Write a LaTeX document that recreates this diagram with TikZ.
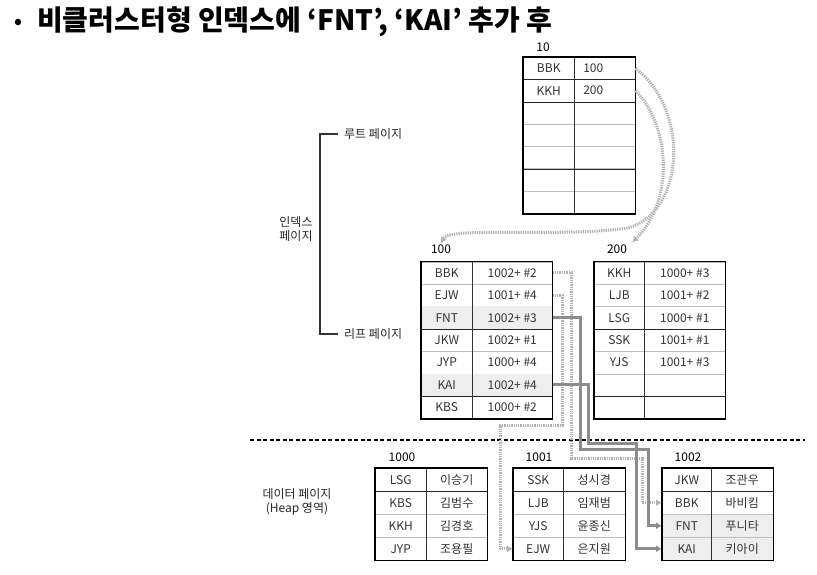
\documentclass[tikz,border=0pt]{standalone}
\usepackage{fontspec}
\setmainfont{Noto Sans CJK KR}
\usetikzlibrary{arrows.meta}
\begin{document}
\begin{tikzpicture}[x=1pt,y=-1pt,
  cell/.style={draw=gray!50, line width=0.5pt, inner sep=0pt, anchor=north west,
    font=\fontsize{12}{12}\selectfont, text=black!80},
  hl/.style={fill=gray!13},
  tblborder/.style={draw=black, line width=1.8pt},
  coldiv/.style={draw=black!80, line width=0.7pt},
  sepdark/.style={draw=black!85, line width=0.7pt},
  pagelbl/.style={font=\fontsize{12}{12}\selectfont, inner sep=1pt},
  note/.style={font=\fontsize{12}{14}\selectfont, text=black!85, inner sep=1pt, align=center},
  dotconn/.style={draw=gray!60, line width=3pt, dash pattern=on 1.3pt off 1pt,
    -{Latex[length=6pt,width=7pt]}},
  solconn/.style={draw=black!45, line width=3pt, -{Latex[length=6pt,width=7pt]}},
]
\useasboundingbox (0,0) rectangle (817,575);

% ---------- title ----------
\node[font=\fontsize{20}{20}\selectfont\bfseries, inner sep=0pt] (bullet) at (18,24) {•};
\node[anchor=west, font=\fontsize{28}{28}\selectfont\bfseries, inner sep=0pt] (title) at (37,22)
  {비클러스터형 인덱스에 ‘FNT’, ‘KAI’ 추가 후};

% ---------- root page 10 ----------
\node[pagelbl] (l10) at (543,47) {10};
\foreach \k/\v [count=\i] in {BBK/100,KKH/200} {
  \node[cell, minimum width=51, minimum height=22.3] (r10k\i) at (523,{57+(\i-1)*22.3}) {\k};
  \node[cell, minimum width=61, minimum height=22.3, text width=43, inner xsep=9pt, align=left] (r10v\i) at (574,{57+(\i-1)*22.3}) {\v};
}
\foreach \i in {3,...,7} {
  \node[cell, minimum width=51, minimum height=22.3] (r10k\i) at (523,{57+(\i-1)*22.3}) {};
  \node[cell, minimum width=61, minimum height=22.3] (r10v\i) at (574,{57+(\i-1)*22.3}) {};
}
\foreach \i in {1,2,5} \draw[sepdark] (r10k\i.south west) -- (r10v\i.south east);
\draw[coldiv] (r10k1.north east) -- (r10k7.south east);
\draw[tblborder] (r10k1.north west) rectangle (r10v7.south east);

% ---------- leaf page 100 ----------
\node[pagelbl] (l100) at (441,249) {100};
\foreach \k/\v [count=\i] in {BBK/1002+ \#2,EJW/1001+ \#4,FNT/1002+ \#3,JKW/1002+ \#1,JYP/1000+ \#4,KAI/1002+ \#4,KBS/1000+ \#2} {
  \node[cell, minimum width=51, minimum height=22.4] (p100k\i) at (421,{261.5+(\i-1)*22.4}) {\k};
  \node[cell, minimum width=80, minimum height=22.4] (p100v\i) at (472,{261.5+(\i-1)*22.4}) {\v};
}
\foreach \i in {3,6} {
  \fill[gray!13] (p100k\i.north west) rectangle (p100v\i.south east);
  \node[font=\fontsize{12}{12}\selectfont, text=black!80, inner sep=0pt] at (p100k\i.center) {\ifnum\i=3 FNT\else KAI\fi};
  \node[font=\fontsize{12}{12}\selectfont, text=black!80, inner sep=0pt] at (p100v\i.center) {\ifnum\i=3 1002+ \#3\else 1002+ \#4\fi};
}
\foreach \i in {3,6} \draw[sepdark] (p100k\i.south west) -- (p100v\i.south east);
\draw[coldiv] (p100k1.north east) -- (p100k7.south east);
\draw[tblborder] (p100k1.north west) rectangle (p100v7.south east);

% ---------- leaf page 200 ----------
\node[pagelbl] (l200) at (617,249) {200};
\foreach \k/\v [count=\i] in {KKH/1000+ \#3,LJB/1001+ \#2,LSG/1000+ \#1,SSK/1001+ \#1,YJS/1001+ \#3} {
  \node[cell, minimum width=50, minimum height=22.4] (p200k\i) at (594,{261.5+(\i-1)*22.4}) {\k};
  \node[cell, minimum width=81, minimum height=22.4] (p200v\i) at (644,{261.5+(\i-1)*22.4}) {\v};
}
\foreach \i in {6,7} {
  \node[cell, minimum width=50, minimum height=22.4] (p200k\i) at (594,{261.5+(\i-1)*22.4}) {};
  \node[cell, minimum width=81, minimum height=22.4] (p200v\i) at (644,{261.5+(\i-1)*22.4}) {};
}
\foreach \i in {3,6} \draw[sepdark] (p200k\i.south west) -- (p200v\i.south east);
\draw[coldiv] (p200k1.north east) -- (p200k7.south east);
\draw[tblborder] (p200k1.north west) rectangle (p200v7.south east);

% ---------- annotations ----------
\node[note, anchor=west] (rootnote) at (343,134) {루트 페이지};
\node[note, anchor=west] (leafnote) at (343,334) {리프 페이지};
\node[note] (idxnote) at (296,229) {인덱스\\페이지};
\draw[line width=1.3pt, black!80] ([xshift=-5pt]rootnote.west) -- (320,134) -- (320,334) -- ([xshift=-5pt]leafnote.west);

\coordinate (sepL) at (250,440);
\coordinate (sepR) at (805,440);
\draw[line width=1.6pt, dash pattern=on 4pt off 2.5pt] (sepL) -- (sepR);

\node[note] (datanote) at (297,502) {데이터 페이지\\(Heap 영역)};

% ---------- data pages ----------
\node[pagelbl] (l1000) at (402,457) {1000};
\foreach \k/\v [count=\i] in {LSG/이승기,KBS/김범수,KKH/김경호,JYP/조용필} {
  \node[cell, minimum width=51, minimum height=23] (d1000k\i) at (375,{468+(\i-1)*23}) {\k};
  \node[cell, minimum width=61, minimum height=23] (d1000v\i) at (426,{468+(\i-1)*23}) {\v};
}
\draw[sepdark] (d1000k1.south west) -- (d1000v1.south east);
\draw[coldiv] (d1000k1.north east) -- (d1000k4.south east);
\draw[tblborder] (d1000k1.north west) rectangle (d1000v4.south east);

\node[pagelbl] (l1001) at (539,457) {1001};
\foreach \k/\v [count=\i] in {SSK/성시경,LJB/임재범,YJS/윤종신,EJW/은지원} {
  \node[cell, minimum width=50, minimum height=23] (d1001k\i) at (513,{468+(\i-1)*23}) {\k};
  \node[cell, minimum width=62, minimum height=23] (d1001v\i) at (563,{468+(\i-1)*23}) {\v};
}
\draw[sepdark] (d1001k1.south west) -- (d1001v1.south east);
\draw[coldiv] (d1001k1.north east) -- (d1001k4.south east);
\draw[tblborder] (d1001k1.north west) rectangle (d1001v4.south east);

\node[pagelbl] (l1002) at (688,457) {1002};
\foreach \k/\v [count=\i] in {JKW/조관우,BBK/바비킴} {
  \node[cell, minimum width=49, minimum height=23] (d1002k\i) at (662,{468+(\i-1)*23}) {\k};
  \node[cell, minimum width=62, minimum height=23] (d1002v\i) at (711,{468+(\i-1)*23}) {\v};
}
\foreach \k/\v [count=\j] in {FNT/푸니타,KAI/키아이} {
  \pgfmathtruncatemacro\i{\j+2}
  \node[cell, hl, minimum width=49, minimum height=23] (d1002k\i) at (662,{468+(\i-1)*23}) {\k};
  \node[cell, hl, minimum width=62, minimum height=23] (d1002v\i) at (711,{468+(\i-1)*23}) {\v};
}
\draw[sepdark] (d1002k1.south west) -- (d1002v1.south east);
\draw[coldiv] (d1002k1.north east) -- (d1002k4.south east);
\draw[tblborder] (d1002k1.north west) rectangle (d1002v4.south east);

% ---------- connectors: root -> leaves ----------
\draw[dotconn] (r10v1.east) .. controls (690,110) and (685,212) .. (628,228)
  .. controls (560,238) and (450,226) .. (l100.north);
\draw[dotconn] (r10v2.east) .. controls (670,125) and (675,200) .. ([xshift=4pt,yshift=1pt]l200.north east);

% ---------- connectors: leaves -> data ----------
\draw[dotconn] (p100v1.east) -| (571,458) -| ([xshift=-20pt]d1002k2.west) -- (d1002k2.west);
\draw[dotconn] (p100v2.east) -| (562,425) -| ([xshift=-13pt]d1001k4.west) -- (d1001k4.west);
\draw[solconn] (p100v3.east) -| (580,449) -| ([xshift=-14pt]d1002k3.west) -- (d1002k3.west);
\draw[solconn] (p100v6.east) -| (588,443) -| ([xshift=-26pt]d1002k4.west) -- (d1002k4.west);
\end{tikzpicture}
\end{document}
